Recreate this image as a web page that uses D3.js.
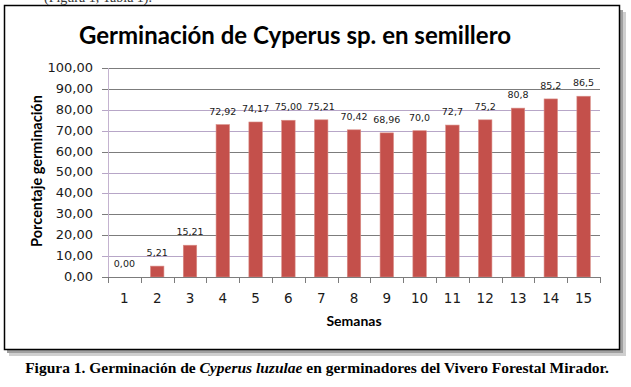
<!DOCTYPE html>
<html>
<head>
<meta charset="utf-8">
<script src="https://cdn.jsdelivr.net/npm/d3@7"></script>
<style>
  body { margin: 0; background: #fff; }
</style>
</head>
<body>
<div id="chart"></div>
<script>
// data
const weeks = ["1","2","3","4","5","6","7","8","9","10","11","12","13","14","15"];
const germination = [0, 5.21, 15.21, 72.92, 74.17, 75.00, 75.21, 70.42, 68.96, 70.0, 72.7, 75.2, 80.8, 85.2, 86.5];
const valueLabels = ["0,00","5,21","15,21","72,92","74,17","75,00","75,21","70,42","68,96","70,0","72,7","75,2","80,8","85,2","86,5"];
const yTicks = [0, 10, 20, 30, 40, 50, 60, 70, 80, 90, 100];

const W = 631, H = 387;
const plot = {left: 108, right: 600, top: 68, bottom: 277};

const svg = d3.select("#chart").append("svg")
    .attr("width", W)
    .attr("height", H);

// cropped line of text from the page above
svg.append("text")
    .attr("x", 44).attr("y", 2)
    .style("font-family", "Liberation Serif")
    .style("font-size", "14px")
    .style("fill", "#333")
    .text("(Figura 1, Tabla 1).");

// frame with shadow
svg.append("rect")
    .attr("x", 9).attr("y", 12)
    .attr("width", 617).attr("height", 344)
    .attr("fill", "#cfcfcf");
svg.append("rect")
    .attr("x", 7).attr("y", 10)
    .attr("width", 616).attr("height", 343)
    .attr("fill", "#a0a0a0");
svg.append("rect")
    .attr("x", 4.5).attr("y", 5.5)
    .attr("width", 615).attr("height", 344)
    .attr("fill", "#fff")
    .attr("stroke", "#000")
    .attr("stroke-width", 1.5);

// scales
const x = d3.scaleBand()
    .domain(weeks)
    .range([plot.left, plot.right])
    .paddingInner(0.59)
    .paddingOuter(0.295);

const xCat = d3.scaleBand()
    .domain(weeks)
    .range([plot.left, plot.right]);

const y = d3.scaleLinear()
    .domain([0, 100])
    .range([plot.bottom, plot.top]);

// gridlines (GIF has two shades)
const darkLines = [20, 30, 60, 90, 100];
svg.append("g")
    .selectAll("line")
    .data(yTicks.filter(d => d > 0))
    .join("line")
    .attr("x1", plot.left - 6)
    .attr("x2", plot.right)
    .attr("y1", d => Math.round(y(d)) + 0.5)
    .attr("y2", d => Math.round(y(d)) + 0.5)
    .attr("stroke", d => darkLines.includes(d) ? "#7c7c7c" : "#b7a6c7")
    .attr("stroke-width", 1);

// y axis line
svg.append("line")
    .attr("x1", plot.left + 0.5).attr("x2", plot.left + 0.5)
    .attr("y1", plot.top).attr("y2", plot.bottom)
    .attr("stroke", "#c4b3d0");

// y tick labels
svg.append("g")
    .selectAll("text")
    .data(yTicks)
    .join("text")
    .attr("x", 93)
    .attr("y", d => y(d))
    .attr("dy", "0.3em")
    .attr("text-anchor", "end")
    .style("font-family", "DejaVu Sans")
    .style("font-size", "13px")
    .style("fill", "#1a1a1a")
    .text(d => d3.format(".2f")(d).replace(".", ","));

// bars
svg.append("g")
    .selectAll("rect")
    .data(weeks)
    .join("rect")
    .attr("x", (d) => x(d))
    .attr("y", (d, i) => y(germination[i]))
    .attr("width", x.bandwidth())
    .attr("height", (d, i) => y(0) - y(germination[i]))
    .attr("fill", "#c4504b")
    .attr("stroke", "#d98e88")
    .attr("stroke-width", 0.6);

// data labels
svg.append("g")
    .selectAll("text")
    .data(weeks)
    .join("text")
    .attr("x", d => x(d) + x.bandwidth() / 2)
    .attr("y", (d, i) => y(germination[i]) - 10)
    .attr("text-anchor", "middle")
    .style("font-family", "DejaVu Sans")
    .style("font-size", "9.5px")
    .style("fill", "#1a1a1a")
    .text((d, i) => valueLabels[i]);

// x axis line and ticks between categories
svg.append("line")
    .attr("x1", plot.left - 6).attr("x2", plot.right)
    .attr("y1", plot.bottom + 0.5).attr("y2", plot.bottom + 0.5)
    .attr("stroke", "#7c7c7c");

const boundaries = weeks.map(d => xCat(d)).concat([plot.right]);
svg.append("g")
    .selectAll("line")
    .data(boundaries)
    .join("line")
    .attr("x1", d => Math.round(d) + 0.5)
    .attr("x2", d => Math.round(d) + 0.5)
    .attr("y1", plot.bottom)
    .attr("y2", plot.bottom + 6)
    .attr("stroke", "#7c7c7c");

// x tick labels
svg.append("g")
    .selectAll("text")
    .data(weeks)
    .join("text")
    .attr("x", d => xCat(d) + xCat.bandwidth() / 2)
    .attr("y", 303)
    .attr("text-anchor", "middle")
    .style("font-family", "DejaVu Sans")
    .style("font-size", "13.5px")
    .style("fill", "#1a1a1a")
    .text(d => d);

// titles
svg.append("text")
    .attr("x", 295).attr("y", 44)
    .attr("text-anchor", "middle")
    .style("font-family", "Lato")
    .style("font-weight", "bold")
    .style("font-size", "24px")
    .text("Germinación de Cyperus sp. en semillero");

svg.append("text")
    .attr("transform", "translate(42,171) rotate(-90)")
    .attr("text-anchor", "middle")
    .style("font-family", "Lato")
    .style("font-weight", "bold")
    .style("font-size", "14.5px")
    .text("Porcentaje germinación");

svg.append("text")
    .attr("x", 354).attr("y", 326)
    .attr("text-anchor", "middle")
    .style("font-family", "Lato")
    .style("font-weight", "bold")
    .style("font-size", "14px")
    .text("Semanas");

// caption under the frame
const cap = svg.append("text")
    .attr("x", 317).attr("y", 373)
    .attr("text-anchor", "middle")
    .style("font-family", "Liberation Serif")
    .style("font-weight", "bold")
    .style("font-size", "15.5px");
cap.append("tspan").text("Figura 1. Germinación de ");
cap.append("tspan").style("font-style", "italic").text("Cyperus luzulae");
cap.append("tspan").text(" en germinadores del Vivero Forestal Mirador.");
</script>
</body>
</html>
